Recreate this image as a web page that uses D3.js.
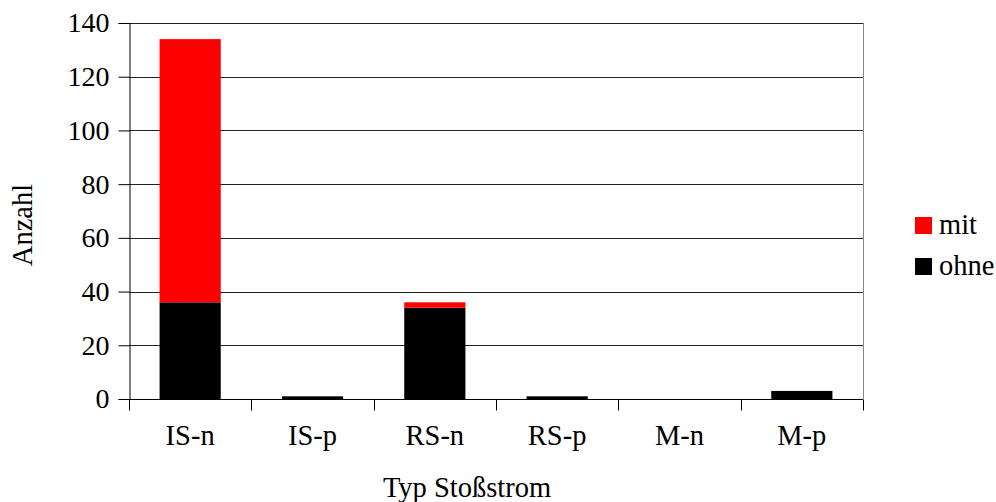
<!DOCTYPE html>
<html><head><meta charset="utf-8">
<script src="https://cdn.jsdelivr.net/npm/d3@7"></script>
<style>body{margin:0;background:#fff}svg{display:block}</style>
</head><body><svg id="c" width="996" height="502"></svg>
<script>
const categories = ["IS-n","IS-p","RS-n","RS-p","M-n","M-p"];
const ohne = [36,1,34,1,0,3];
const mit = [98,0,2,0,0,0];
const yTicks = [0,20,40,60,80,100,120,140];
const seriesNames = ["ohne","mit"];
const colors = {ohne:"#000000", mit:"#ff0000"};

const FONT = "'Liberation Serif', 'Times New Roman', serif";
const svg = d3.select("#c").style("font-family",FONT);
const L=129, R=863, T=23, B=399;
const x = d3.scaleBand().domain(categories).range([L,R]).paddingInner(0.5).paddingOuter(0.25);
const xb = d3.scaleBand().domain(categories).range([L,R]);
const y = d3.scaleLinear().domain([0,140]).range([B,T]);
const fs = 28;
const fsT = 28.5;

// gridlines
svg.append("g").selectAll("line").data(yTicks.filter(d=>d>0)).join("line")
  .attr("x1",L).attr("x2",R).attr("y1",d=>Math.round(y(d))+0.5).attr("y2",d=>Math.round(y(d))+0.5)
  .attr("stroke","#222").attr("stroke-width",1);
// right border
svg.append("line").attr("x1",R+0.5).attr("x2",R+0.5).attr("y1",T).attr("y2",B).attr("stroke","#888");

const data = categories.map((c,i)=>({cat:c, ohne:ohne[i], mit:mit[i]}));
const stack = d3.stack().keys(seriesNames)(data);
svg.append("g").selectAll("g").data(stack).join("g").attr("fill",d=>colors[d.key])
  .selectAll("rect").data(d=>d).join("rect")
  .attr("x",d=>x(d.data.cat)).attr("width",x.bandwidth())
  .attr("y",d=>y(d[1])).attr("height",d=>y(d[0])-y(d[1]));

// y axis
const ya = svg.append("g").attr("transform",`translate(${L+0.5},0)`)
  .call(d3.axisLeft(y).tickValues(yTicks).tickSize(11).tickPadding(9));
ya.attr("font-family",null).attr("font-size",null);
ya.select(".domain").attr("stroke","#000");
ya.selectAll(".tick line").attr("stroke","#000");
ya.selectAll("text").style("font-family",FONT).style("font-size",fs+"px").attr("fill","#000");

// x axis
const xa = svg.append("g").attr("transform",`translate(0,${B+0.5})`);
xa.append("line").attr("x1",L).attr("x2",R).attr("stroke","#000");
const bounds = categories.map(c=>xb(c)).concat([R]);
xa.selectAll("line.t").data(bounds).join("line").attr("class","t")
  .attr("x1",d=>Math.round(d)+0.5).attr("x2",d=>Math.round(d)+0.5).attr("y1",0).attr("y2",11).attr("stroke","#000");
xa.selectAll("text").data(categories).join("text")
  .attr("x",d=>xb(d)+xb.bandwidth()/2).attr("y",45.5).attr("text-anchor","middle")
  .style("font-family",FONT).style("font-size",fsT+"px").attr("fill","#000").text(d=>d);

// titles
svg.append("text").attr("x",467).attr("y",497).attr("text-anchor","middle")
  .style("font-family",FONT).style("font-size",fsT+"px").attr("fill","#000").text("Typ Stoßstrom");
svg.append("text").attr("transform",`translate(32,225) rotate(-90)`).attr("text-anchor","middle")
  .style("font-family",FONT).style("font-size",fsT+"px").attr("fill","#000").text("Anzahl");

// legend
const leg = [{k:"mit",y:217},{k:"ohne",y:258}];
const lg = svg.append("g");
lg.selectAll("rect").data(leg).join("rect").attr("x",915).attr("y",d=>d.y).attr("width",17).attr("height",17).attr("fill",d=>colors[d.k]);
lg.selectAll("text").data(leg).join("text").attr("x",939).attr("y",d=>d.y+17)
  .style("font-family",FONT).style("font-size",fsT+"px").attr("fill","#000").text(d=>d.k);
</script></body></html>
